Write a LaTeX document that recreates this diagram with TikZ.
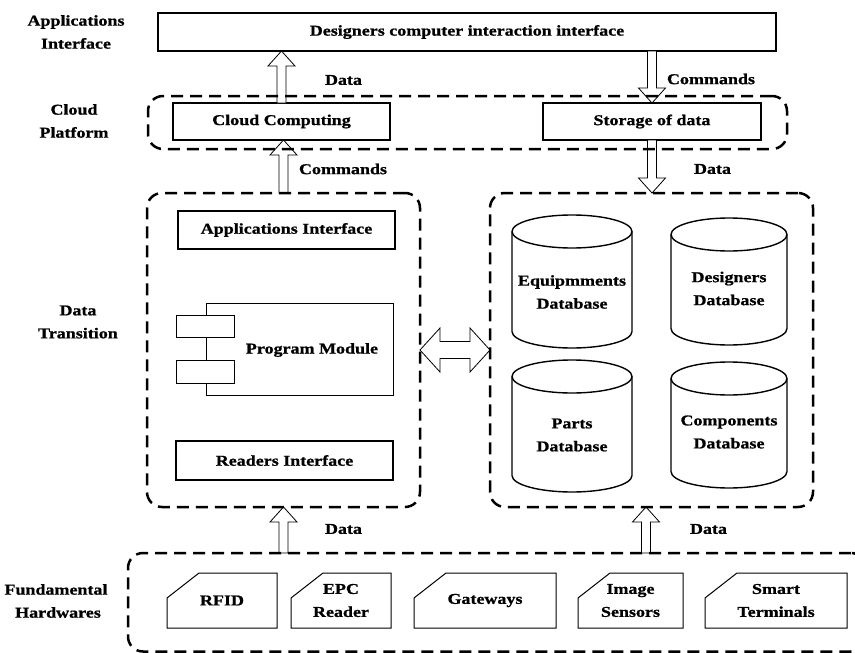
\documentclass[tikz,border=0pt]{standalone}
\usepackage{fontspec}
\setmainfont{Liberation Serif}[FakeStretch=1.2, BoldFeatures={FakeBold=1}]
\usetikzlibrary{calc}

\tikzset{
  every node/.style={font=\fontsize{15}{23}\selectfont\bfseries, align=center},
  box/.style={draw, line width=1.5pt, fill=white, inner sep=0pt, outer sep=0pt},
  thinbox/.style={draw, line width=0.9pt, fill=white, inner sep=0pt, outer sep=0pt},
  group/.style={draw, line width=2.5pt, dash pattern=on 12pt off 7pt,
    rounded corners=15pt, inner sep=0pt, outer sep=0pt},
  card/.style={inner sep=0pt, outer sep=0pt},
  cardline/.style={line width=1pt},
  dbline/.style={line width=1.4pt},
  blk/.style={draw, line width=0.8pt, fill=white, line join=miter},
  lbl/.style={inner sep=0pt},
}

% hollow block arrow from #1 (tail) to #2 (tip)
\newcommand\blockarrow[2]{%
  \coordinate (ba-s) at (#1);
  \coordinate (ba-t) at (#2);
  \coordinate (ba-b) at ($(ba-t)!15pt!(ba-s)$);
  \draw[blk] ($(ba-s)!4.5pt!90:(ba-t)$) -- ($(ba-b)!4.5pt!90:(ba-t)$)
    -- ($(ba-b)!13.5pt!90:(ba-t)$) -- (ba-t)
    -- ($(ba-b)!13.5pt!-90:(ba-t)$) -- ($(ba-b)!4.5pt!-90:(ba-t)$)
    -- ($(ba-s)!4.5pt!-90:(ba-t)$) -- cycle;}

% database cylinder: centre x, top y, bottom y, x radius (y measured downwards)
\newcommand\dbcyl[4]{%
  \draw[dbline] ({#1-#4},{-#2-16.5}) -- ({#1-#4},{-#3+16.5})
    arc[start angle=180, end angle=360, x radius=#4pt, y radius=16.5pt]
    -- ({#1+#4},{-#2-16.5});
  \draw[dbline] (#1,{-#2-16.5}) ellipse [x radius=#4pt, y radius=16.5pt];}

% card with a cut top-left corner around node #1
\newcommand\cardoutline[1]{%
  \draw[cardline] ([yshift=-25pt]#1.north west) -- ([xshift=32pt]#1.north west)
    -- (#1.north east) -- (#1.south east) -- (#1.south west) -- cycle;}

\begin{document}
\begin{tikzpicture}[x=1pt, y=1pt]
\useasboundingbox (0,0) rectangle (855,-653);

% layer names
\node[lbl] (lab-app)   at (76,-32)  {Applications\\Interface};
\node[lbl] (lab-cloud) at (74,-121) {Cloud\\Platform};
\node[lbl] (lab-data)  at (78,-322) {Data\\Transition};
\node[lbl] (lab-hw)    at (56,-601) {Fundamental\\\hspace*{4pt}Hardwares};

% group frames (coordinates only, drawn later on top of the arrows)
\path (467.5,-122.5) coordinate (cloud-c)
      (283.5,-350) coordinate (left-c)
      (651.5,-350) coordinate (right-c)
      (497,-602.25) coordinate (hw-c);
\node[group, draw=none, minimum width=639pt, minimum height=53pt] (cloud) at (cloud-c) {};
\node[group, draw=none, minimum width=273pt, minimum height=314pt] (left) at (left-c) {};
\node[group, draw=none, minimum width=323pt, minimum height=314pt] (right) at (right-c) {};
\node[group, draw=none, minimum width=738pt, minimum height=98.5pt] (hw) at (hw-c) {};

% solid boxes
\node[box, minimum width=618pt, minimum height=38pt] (top) at (467,-32)
  {Designers computer interaction interface};
\node[box, minimum width=217pt, minimum height=37pt] (cc) at (281.5,-121.5) {Cloud Computing};
\node[box, minimum width=218pt, minimum height=37pt] (st) at (652,-121.5) {Storage of data};

% arrows between layers
\blockarrow{cc.north}{cc.north |- top.south}
\blockarrow{st.north |- top.south}{st.north}
\blockarrow{left.north}{left.north |- cc.south}
\blockarrow{st.south}{st.south |- right.north}
\blockarrow{left.south |- hw.north}{left.south}
\blockarrow{[xshift=-5.5pt]right.south |- hw.north}{[xshift=-5.5pt]right.south}

% two-way arrow between the data transition groups
\draw[blk] (left.east) -- ($(left.east)+(20,22)$) -- ($(left.east)+(20,8.5)$)
  -- ($(right.west)+(-20,8.5)$) -- ($(right.west)+(-20,22)$) -- (right.west)
  -- ($(right.west)+(-20,-22)$) -- ($(right.west)+(-20,-8.5)$)
  -- ($(left.east)+(20,-8.5)$) -- ($(left.east)+(20,-22)$) -- cycle;

% dashed group frames
\node[group, minimum width=639pt, minimum height=53pt] at (cloud-c) {};
\node[group, minimum width=273pt, minimum height=314pt] at (left-c) {};
\node[group, minimum width=323pt, minimum height=314pt] at (right-c) {};
\node[group, minimum width=738pt, minimum height=98.5pt] at (hw-c) {};

% arrow labels
\node[lbl] (l-data1) at (343.5,-80)  {Data};
\node[lbl] (l-cmd1)  at (711,-79)    {Commands};
\node[lbl] (l-cmd2)  at (343,-169)   {Commands};
\node[lbl] (l-data2) at (712.5,-169) {Data};
\node[lbl] (l-data3) at (343.5,-529) {Data};
\node[lbl] (l-data4) at (708.5,-529) {Data};

% data transition: interfaces and program module
\node[box, minimum width=217pt, minimum height=38pt] (appif) at (286.5,-230) {Applications Interface};
\node[thinbox, minimum width=187pt, minimum height=92pt] (pm) at (299.5,-349) {};
\node[thinbox, minimum width=58pt, minimum height=22pt] (pm-a) at (205,-326) {};
\node[thinbox, minimum width=58pt, minimum height=23pt] (pm-b) at (205,-371.5) {};
\node[lbl] (pm-t) at (312,-350) {Program Module};
\node[box, minimum width=217pt, minimum height=39pt] (rdif) at (284.5,-460.5) {Readers Interface};

% databases
\dbcyl{572}{215}{348}{60}
\dbcyl{729}{218}{345}{58}
\dbcyl{572}{360}{492}{60}
\dbcyl{729}{362}{488}{58}
\node[lbl] (db-eq)   at (572,-292)   {Equipmments\\Database};
\node[lbl] (db-des)  at (729,-288.5) {Designers\\Database};
\node[lbl] (db-part) at (572,-435)   {Parts\\Database};
\node[lbl] (db-comp) at (729,-432)   {Components\\Database};

% hardware
\node[card, minimum width=110pt, minimum height=55pt] (rfid) at (222,-600.5) {RFID};
\node[card, minimum width=100pt, minimum height=55pt] (epc)  at (341,-600.5) {EPC\\Reader};
\node[card, minimum width=142pt, minimum height=55pt] (gw)   at (485,-600.5) {Gateways};
\node[card, minimum width=105pt, minimum height=55pt] (img)  at (630.5,-600.5) {Image\\Sensors};
\node[card, minimum width=142pt, minimum height=55pt] (smt)  at (776,-600.5) {Smart\\Terminals};
\cardoutline{rfid}
\cardoutline{epc}
\cardoutline{gw}
\cardoutline{img}
\cardoutline{smt}
\end{tikzpicture}
\end{document}
